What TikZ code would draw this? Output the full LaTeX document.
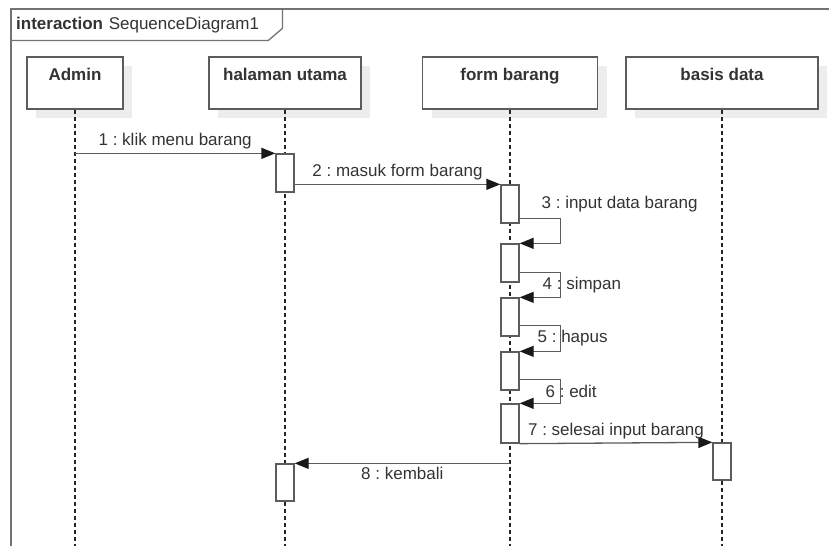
\documentclass[tikz,border=0pt]{standalone}
\usepackage{fontspec}
\setmainfont{Liberation Sans}
\usetikzlibrary{arrows.meta,shadows}
\definecolor{linegray}{HTML}{5C5C5C}
\definecolor{textgray}{HTML}{333333}
\frenchspacing

\begin{document}
\begin{tikzpicture}[x=1pt, y=-1pt, font=\fontsize{17}{20}\selectfont, text=textgray,
	head/.style={draw=linegray, line width=1.3pt, fill=white, font=\fontsize{17}{20}\selectfont\bfseries, text height=17pt, text depth=23pt, inner ysep=6pt, drop shadow={shadow xshift=9pt, shadow yshift=-9pt, fill=black!7, opacity=1}},
	act/.style={draw=linegray, line width=1.3pt, fill=white, minimum width=18pt, minimum height=38pt, inner sep=0pt},
	lifeline/.style={draw=black!85, line width=1.1pt, dash pattern=on 4pt off 3pt},
	msg/.style={draw=linegray, line width=1.3pt, -{Triangle[length=14pt, width=11pt, color=black!90]}}]
	\useasboundingbox (0,0) rectangle (829,546);
	\coordinate (bottom) at (0,546);
	% frame with its name tab
	\draw[black!55, line width=1.3pt] (11,546) -- (11,9) -- (829,9);
	\node[anchor=north west, text width=261pt, inner xsep=5pt, inner ysep=0pt, minimum height=31pt] (tab) at (11,9) {\textbf{interaction} SequenceDiagram1};
	\draw[black!55, line width=1.3pt] (tab.south west) -- ([xshift=-14pt]tab.south east) -- ([yshift=12pt]tab.south east) -- (tab.north east);
	\node[head, minimum width=96pt] (admin) at (75,83) {Admin};
	\node[head, minimum width=152pt] (halaman) at (285,83) {halaman utama};
	\node[head, minimum width=175pt] (form) at (510,83) {form barang};
	\node[head, minimum width=192pt] (basis) at (722,83) {basis data};
	\foreach \n in {admin,halaman,form,basis}
		\draw[lifeline] (\n.south) -- (\n.south |- bottom);
	\node[act] (h1) at (285,173) {};
	\node[act] (f1) at (510,204) {};
	\node[act] (f2) at (510,263) {};
	\node[act] (f3) at (510,317) {};
	\node[act] (f4) at (510,371) {};
	\node[act, minimum height=39pt] (f5) at (510,423.5) {};
	\node[act, minimum height=37pt] (b1) at (722,461.5) {};
	\node[act, minimum height=37pt] (h2) at (285,482.5) {};
	\draw[msg] (admin.south |- h1.north) -- node[above] {1 : klik menu barang} (h1.north west);
	\draw[msg] (h1.east |- f1.north) -- node[above] {2 : masuk form barang} (f1.north west);
	\draw[msg] ([yshift=5pt]f1.south east) -- ++(41,0) |- node[pos=.25, right, xshift=-23pt, yshift=27pt] {3 : input data barang} (f2.north east);
	\draw[msg] ([yshift=10pt]f2.south east) -- ++(41,0) |- node[pos=.25, right, xshift=-22pt] {4 : simpan} (f3.north east);
	\draw[msg] ([yshift=11pt]f3.south east) -- ++(41,0) |- node[pos=.25, right, xshift=-27pt] {5 : hapus} (f4.north east);
	\draw[msg] ([yshift=11pt]f4.south east) -- ++(41,0) |- node[pos=.25, right, xshift=-19pt] {6 : edit} (f5.north east);
	\draw[msg] (f5.south east) -- node[above] {7 : selesai input barang} (b1.north west);
	\draw[msg] (form.south |- h2.north) -- node[below] {8 : kembali} (h2.north east);
\end{tikzpicture}
\end{document}
